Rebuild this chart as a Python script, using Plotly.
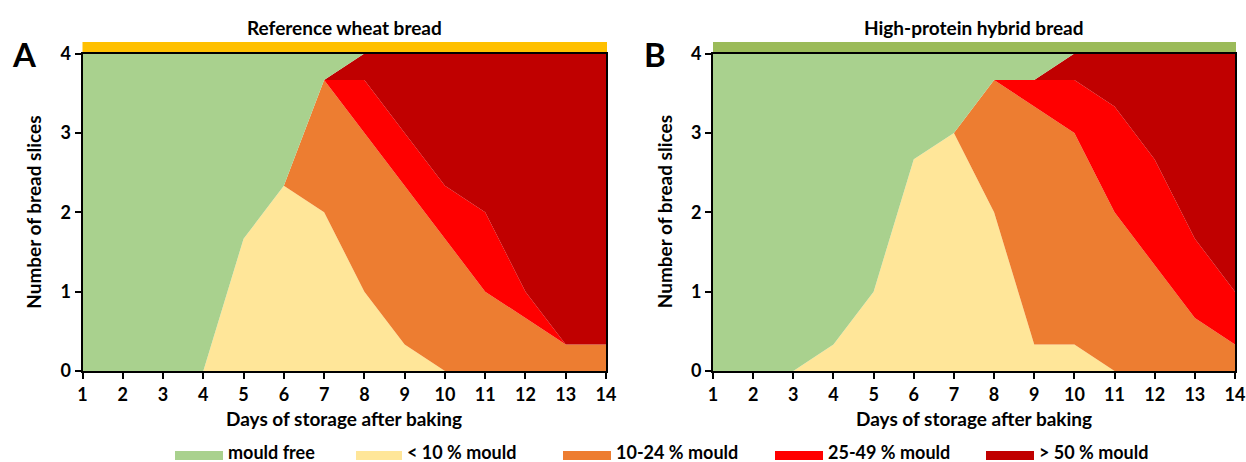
import plotly.graph_objects as go

W, H = 1246, 462

days = list(range(1, 15))
categories = ["< 10 % mould", "10-24 % mould", "25-49 % mould", "> 50 % mould", "mould free"]
legend_order = ["mould free", "< 10 % mould", "10-24 % mould", "25-49 % mould", "> 50 % mould"]
colors = {"mould free": "#A9D18E", "< 10 % mould": "#FFE699", "10-24 % mould": "#ED7D31",
          "25-49 % mould": "#FF0000", "> 50 % mould": "#C00000"}

# Panel A: Reference wheat bread
a_lt10 = [0, 0, 0, 0, 1.667, 2.333, 2, 1, 0.333, 0, 0, 0, 0, 0]
a_10_24 = [0, 0, 0, 0, 0, 0, 1.667, 2, 2, 1.667, 1, 0.667, 0.333, 0.333]
a_25_49 = [0, 0, 0, 0, 0, 0, 0, 0.667, 0.667, 0.667, 1, 0.333, 0, 0]
a_gt50 = [0, 0, 0, 0, 0, 0, 0, 0.333, 1, 1.667, 2, 3, 3.667, 3.667]
a_free = [4, 4, 4, 4, 2.333, 1.667, 0.333, 0, 0, 0, 0, 0, 0, 0]

# Panel B: High-protein hybrid bread
b_lt10 = [0, 0, 0, 0.333, 1, 2.667, 3, 2, 0.333, 0.333, 0, 0, 0, 0]
b_10_24 = [0, 0, 0, 0, 0, 0, 0, 1.667, 3, 2.667, 2, 1.333, 0.667, 0.333]
b_25_49 = [0, 0, 0, 0, 0, 0, 0, 0, 0.333, 0.667, 1.333, 1.333, 1, 0.667]
b_gt50 = [0, 0, 0, 0, 0, 0, 0, 0, 0, 0.333, 0.667, 1.333, 2.333, 3]
b_free = [4, 4, 4, 3.667, 3, 1.333, 1, 0.333, 0.333, 0, 0, 0, 0, 0]

panel_titles = ["Reference wheat bread", "High-protein hybrid bread"]
panel_letters = ["A", "B"]
header_colors = ["#FFC000", "#9BBB59"]
x_title = "Days of storage after baking"
y_title = "Number of bread slices"

FONT = "Lato"

def px(x):
    return x / W

def py(y):
    return 1 - y / H

fig = go.Figure()

panels = [
    dict(series=[a_lt10, a_10_24, a_25_49, a_gt50, a_free], xaxis="x", yaxis="y", sg="A"),
    dict(series=[b_lt10, b_10_24, b_25_49, b_gt50, b_free], xaxis="x2", yaxis="y2", sg="B"),
]
for p in panels:
    for name, vals in zip(categories, p["series"]):
        fig.add_trace(go.Scatter(
            x=days, y=vals, name=name, mode="lines",
            line=dict(width=0, color=colors[name]),
            fillcolor=colors[name], stackgroup=p["sg"],
            xaxis=p["xaxis"], yaxis=p["yaxis"], showlegend=False,
            hoverinfo="x+y+name",
        ))

# plot area geometry (pixels)
plots = [dict(x0=82.5, x1=606), dict(x0=713, x1=1235)]
ytop, ybot = 53.5, 371

axis_common = dict(
    showgrid=False, zeroline=False, showline=True, linecolor="black", linewidth=2,
    mirror=True, ticks="outside", ticklen=6, tickwidth=2, tickcolor="black",
    automargin=False,
    tickfont=dict(family=FONT, size=18, color="black", weight="bold"),
)
layout = dict(
    width=W, height=H, margin=dict(l=0, r=0, t=0, b=0, pad=0),
    paper_bgcolor="white", plot_bgcolor="white", showlegend=False,
    font=dict(family=FONT, color="black"),
)
for i, pl in enumerate(plots):
    sfx = "" if i == 0 else str(i + 1)
    layout["xaxis" + sfx] = dict(axis_common, domain=[px(pl["x0"]), px(pl["x1"])],
                                 range=[1, 14], tickvals=days, anchor="y" + sfx)
    layout["yaxis" + sfx] = dict(axis_common, domain=[py(ybot), py(ytop)],
                                 range=[0, 4], tickvals=[0, 1, 2, 3, 4], anchor="x" + sfx)
fig.update_layout(**layout)

shapes = []
annotations = []
for i, pl in enumerate(plots):
    # header bar
    shapes.append(dict(type="rect", xref="paper", yref="paper",
                       x0=px(pl["x0"]), x1=px(pl["x1"] + 1), y0=py(52.5), y1=py(42),
                       fillcolor=header_colors[i], line=dict(width=0), layer="below"))
    cx = (pl["x0"] + pl["x1"]) / 2
    annotations.append(dict(text=panel_titles[i], xref="paper", yref="paper",
                            x=px(cx), y=py(28), xanchor="center", yanchor="middle",
                            showarrow=False, font=dict(family=FONT, size=19, weight="bold")))
    annotations.append(dict(text=panel_letters[i], xref="paper", yref="paper",
                            x=px(pl["x0"] - 58), y=py(54), xanchor="center", yanchor="middle",
                            showarrow=False, font=dict(family=FONT, size=33, weight="bold")))
    annotations.append(dict(text=x_title, xref="paper", yref="paper",
                            x=px(cx), y=py(418), xanchor="center", yanchor="middle",
                            showarrow=False, font=dict(family=FONT, size=19, weight="bold")))
    annotations.append(dict(text=y_title, xref="paper", yref="paper",
                            x=px(pl["x0"] - 49), y=py((ytop + ybot) / 2), xanchor="center",
                            yanchor="middle", textangle=-90,
                            showarrow=False, font=dict(family=FONT, size=19, weight="bold")))

# legend drawn manually (wide swatches)
legend_swatches = [(175, 223), (356, 402), (563, 611), (775, 823), (986, 1034)]
for name, (sx0, sx1) in zip(legend_order, legend_swatches):
    shapes.append(dict(type="rect", xref="paper", yref="paper",
                       x0=px(sx0), x1=px(sx1), y0=py(460), y1=py(451),
                       fillcolor=colors[name], line=dict(width=0)))
    annotations.append(dict(text=name, xref="paper", yref="paper",
                            x=px(sx1 + 3), y=py(452), xanchor="left", yanchor="middle",
                            showarrow=False, font=dict(family=FONT, size=18, weight="bold")))

fig.update_layout(shapes=shapes, annotations=annotations)
fig.write_html("out.html", config={"displayModeBar": False},
               post_script="document.body.style.margin='0px';document.body.style.overflow='hidden';")
